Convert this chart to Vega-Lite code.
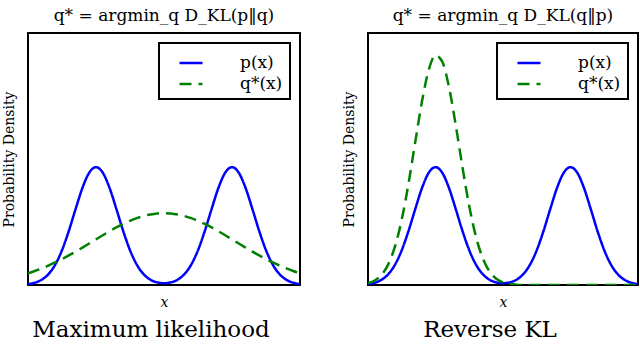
{
  "$schema": "https://vega.github.io/schema/vega-lite/v6.json",
  "background": "white",
  "padding": {"left": 1, "top": 6, "right": 2, "bottom": 0},
  "spacing": 40,
  "config": {
    "view": {"stroke": "black", "strokeWidth": 2},
    "font": "DejaVu Serif",
    "title": {"font": "DejaVu Serif", "fontWeight": "normal", "fontSize": 17, "color": "black", "anchor": "middle"},
    "axis": {"domain": false, "ticks": false, "labels": false, "grid": false, "titleFont": "DejaVu Serif", "titleFontWeight": "normal", "titleFontSize": 14, "titleColor": "black"},
    "legend": {"orient": "top-right", "offset": 10, "strokeColor": "black", "strokeWidth": 2, "fillColor": "white", "padding": 7, "labelFont": "DejaVu Serif", "labelFontSize": 17, "labelColor": "black", "symbolType": "stroke", "symbolSize": 529, "symbolStrokeWidth": 2.5, "labelOffset": 36, "rowPadding": 0, "symbolOffset": 12}
  },
  "datasets": {
    "ml": [
      {"s":"p(x)","x":-5,"y":0.0019},{"s":"p(x)","x":-4.75,"y":0.0048},{"s":"p(x)","x":-4.5,"y":0.011},{"s":"p(x)","x":-4.25,"y":0.0228},{"s":"p(x)","x":-4,"y":0.043},{"s":"p(x)","x":-3.75,"y":0.0736},{"s":"p(x)","x":-3.5,"y":0.1142},{"s":"p(x)","x":-3.25,"y":0.1607},{"s":"p(x)","x":-3,"y":0.2051},{"s":"p(x)","x":-2.75,"y":0.2375},{"s":"p(x)","x":-2.5,"y":0.2493},{"s":"p(x)","x":-2.25,"y":0.2375},{"s":"p(x)","x":-2,"y":0.2051},{"s":"p(x)","x":-1.75,"y":0.1607},{"s":"p(x)","x":-1.5,"y":0.1142},{"s":"p(x)","x":-1.25,"y":0.0736},{"s":"p(x)","x":-1,"y":0.043},{"s":"p(x)","x":-0.75,"y":0.0229},{"s":"p(x)","x":-0.5,"y":0.0112},{"s":"p(x)","x":-0.25,"y":0.0055},{"s":"p(x)","x":0,"y":0.0038},{"s":"p(x)","x":0.25,"y":0.0055},{"s":"p(x)","x":0.5,"y":0.0112},{"s":"p(x)","x":0.75,"y":0.0229},{"s":"p(x)","x":1,"y":0.043},{"s":"p(x)","x":1.25,"y":0.0736},{"s":"p(x)","x":1.5,"y":0.1142},{"s":"p(x)","x":1.75,"y":0.1607},{"s":"p(x)","x":2,"y":0.2051},{"s":"p(x)","x":2.25,"y":0.2375},{"s":"p(x)","x":2.5,"y":0.2493},{"s":"p(x)","x":2.75,"y":0.2375},{"s":"p(x)","x":3,"y":0.2051},{"s":"p(x)","x":3.25,"y":0.1607},{"s":"p(x)","x":3.5,"y":0.1142},{"s":"p(x)","x":3.75,"y":0.0736},{"s":"p(x)","x":4,"y":0.043},{"s":"p(x)","x":4.25,"y":0.0228},{"s":"p(x)","x":4.5,"y":0.011},{"s":"p(x)","x":4.75,"y":0.0048},{"s":"p(x)","x":5,"y":0.0019},
      {"s":"q*(x)","x":-5,"y":0.0248},{"s":"q*(x)","x":-4.75,"y":0.0296},{"s":"q*(x)","x":-4.5,"y":0.035},{"s":"q*(x)","x":-4.25,"y":0.041},{"s":"q*(x)","x":-4,"y":0.0476},{"s":"q*(x)","x":-3.75,"y":0.0548},{"s":"q*(x)","x":-3.5,"y":0.0625},{"s":"q*(x)","x":-3.25,"y":0.0706},{"s":"q*(x)","x":-3,"y":0.0791},{"s":"q*(x)","x":-2.75,"y":0.0878},{"s":"q*(x)","x":-2.5,"y":0.0966},{"s":"q*(x)","x":-2.25,"y":0.1053},{"s":"q*(x)","x":-2,"y":0.1137},{"s":"q*(x)","x":-1.75,"y":0.1217},{"s":"q*(x)","x":-1.5,"y":0.1291},{"s":"q*(x)","x":-1.25,"y":0.1357},{"s":"q*(x)","x":-1,"y":0.1413},{"s":"q*(x)","x":-0.75,"y":0.1459},{"s":"q*(x)","x":-0.5,"y":0.1492},{"s":"q*(x)","x":-0.25,"y":0.1513},{"s":"q*(x)","x":0,"y":0.152},{"s":"q*(x)","x":0.25,"y":0.1513},{"s":"q*(x)","x":0.5,"y":0.1492},{"s":"q*(x)","x":0.75,"y":0.1459},{"s":"q*(x)","x":1,"y":0.1413},{"s":"q*(x)","x":1.25,"y":0.1357},{"s":"q*(x)","x":1.5,"y":0.1291},{"s":"q*(x)","x":1.75,"y":0.1217},{"s":"q*(x)","x":2,"y":0.1137},{"s":"q*(x)","x":2.25,"y":0.1053},{"s":"q*(x)","x":2.5,"y":0.0966},{"s":"q*(x)","x":2.75,"y":0.0878},{"s":"q*(x)","x":3,"y":0.0791},{"s":"q*(x)","x":3.25,"y":0.0706},{"s":"q*(x)","x":3.5,"y":0.0625},{"s":"q*(x)","x":3.75,"y":0.0548},{"s":"q*(x)","x":4,"y":0.0476},{"s":"q*(x)","x":4.25,"y":0.041},{"s":"q*(x)","x":4.5,"y":0.035},{"s":"q*(x)","x":4.75,"y":0.0296},{"s":"q*(x)","x":5,"y":0.0248}
    ],
    "rkl": [
      {"s":"p(x)","x":-5,"y":0.0019},{"s":"p(x)","x":-4.75,"y":0.0048},{"s":"p(x)","x":-4.5,"y":0.011},{"s":"p(x)","x":-4.25,"y":0.0228},{"s":"p(x)","x":-4,"y":0.043},{"s":"p(x)","x":-3.75,"y":0.0736},{"s":"p(x)","x":-3.5,"y":0.1142},{"s":"p(x)","x":-3.25,"y":0.1607},{"s":"p(x)","x":-3,"y":0.2051},{"s":"p(x)","x":-2.75,"y":0.2375},{"s":"p(x)","x":-2.5,"y":0.2493},{"s":"p(x)","x":-2.25,"y":0.2375},{"s":"p(x)","x":-2,"y":0.2051},{"s":"p(x)","x":-1.75,"y":0.1607},{"s":"p(x)","x":-1.5,"y":0.1142},{"s":"p(x)","x":-1.25,"y":0.0736},{"s":"p(x)","x":-1,"y":0.043},{"s":"p(x)","x":-0.75,"y":0.0229},{"s":"p(x)","x":-0.5,"y":0.0112},{"s":"p(x)","x":-0.25,"y":0.0055},{"s":"p(x)","x":0,"y":0.0038},{"s":"p(x)","x":0.25,"y":0.0055},{"s":"p(x)","x":0.5,"y":0.0112},{"s":"p(x)","x":0.75,"y":0.0229},{"s":"p(x)","x":1,"y":0.043},{"s":"p(x)","x":1.25,"y":0.0736},{"s":"p(x)","x":1.5,"y":0.1142},{"s":"p(x)","x":1.75,"y":0.1607},{"s":"p(x)","x":2,"y":0.2051},{"s":"p(x)","x":2.25,"y":0.2375},{"s":"p(x)","x":2.5,"y":0.2493},{"s":"p(x)","x":2.75,"y":0.2375},{"s":"p(x)","x":3,"y":0.2051},{"s":"p(x)","x":3.25,"y":0.1607},{"s":"p(x)","x":3.5,"y":0.1142},{"s":"p(x)","x":3.75,"y":0.0736},{"s":"p(x)","x":4,"y":0.043},{"s":"p(x)","x":4.25,"y":0.0228},{"s":"p(x)","x":4.5,"y":0.011},{"s":"p(x)","x":4.75,"y":0.0048},{"s":"p(x)","x":5,"y":0.0019},
      {"s":"q*(x)","x":-5,"y":0.0039},{"s":"q*(x)","x":-4.75,"y":0.0095},{"s":"q*(x)","x":-4.5,"y":0.0214},{"s":"q*(x)","x":-4.25,"y":0.0437},{"s":"q*(x)","x":-4,"y":0.0815},{"s":"q*(x)","x":-3.75,"y":0.1385},{"s":"q*(x)","x":-3.5,"y":0.2143},{"s":"q*(x)","x":-3.25,"y":0.3023},{"s":"q*(x)","x":-3,"y":0.3885},{"s":"q*(x)","x":-2.75,"y":0.455},{"s":"q*(x)","x":-2.5,"y":0.4856},{"s":"q*(x)","x":-2.25,"y":0.4723},{"s":"q*(x)","x":-2,"y":0.4185},{"s":"q*(x)","x":-1.75,"y":0.338},{"s":"q*(x)","x":-1.5,"y":0.2487},{"s":"q*(x)","x":-1.25,"y":0.1668},{"s":"q*(x)","x":-1,"y":0.1019},{"s":"q*(x)","x":-0.75,"y":0.0567},{"s":"q*(x)","x":-0.5,"y":0.0288},{"s":"q*(x)","x":-0.25,"y":0.0133},{"s":"q*(x)","x":0,"y":0.0056},{"s":"q*(x)","x":0.25,"y":0.0022},{"s":"q*(x)","x":0.5,"y":0.0008},{"s":"q*(x)","x":0.75,"y":0.0002},{"s":"q*(x)","x":1,"y":0.0001},{"s":"q*(x)","x":1.25,"y":0},{"s":"q*(x)","x":1.5,"y":0},{"s":"q*(x)","x":1.75,"y":0},{"s":"q*(x)","x":2,"y":0},{"s":"q*(x)","x":2.25,"y":0},{"s":"q*(x)","x":2.5,"y":0},{"s":"q*(x)","x":2.75,"y":0},{"s":"q*(x)","x":3,"y":0},{"s":"q*(x)","x":3.25,"y":0},{"s":"q*(x)","x":3.5,"y":0},{"s":"q*(x)","x":3.75,"y":0},{"s":"q*(x)","x":4,"y":0},{"s":"q*(x)","x":4.25,"y":0},{"s":"q*(x)","x":4.5,"y":0},{"s":"q*(x)","x":4.75,"y":0},{"s":"q*(x)","x":5,"y":0}
    ]
  },
  "hconcat": [
    {
      "title": {"text": "Maximum likelihood", "orient": "bottom", "anchor": "middle", "font": "DejaVu Serif", "fontSize": 23, "offset": 9},
      "resolve": {"legend": {"color": "independent", "strokeDash": "independent"}},
      "vconcat": [
        {
          "width": 272,
          "height": 252,
          "title": {"text": "q* = argmin_q D_KL(p‖q)", "font": "DejaVu Serif", "offset": 8},
          "data": {"name": "ml"},
          "mark": {"type": "line", "strokeWidth": 2.5, "interpolate": "monotone", "clip": true},
          "encoding": {
            "x": {"field": "x", "type": "quantitative", "scale": {"domain": [-5, 5], "nice": false, "zero": false}, "axis": {"title": "x", "titleFontStyle": "italic", "titlePadding": 10}},
            "y": {"field": "y", "type": "quantitative", "scale": {"domain": [0, 0.533], "nice": false}, "axis": {"title": "Probability Density", "titlePadding": 12}},
            "color": {"field": "s", "type": "nominal", "scale": {"domain": ["p(x)", "q*(x)"], "range": ["#0000ff", "#008000"]}, "legend": {"title": null, "labelFont": "DejaVu Serif"}},
            "strokeDash": {"field": "s", "type": "nominal", "scale": {"domain": ["p(x)", "q*(x)"], "range": [[1, 0], [12, 7]]}, "legend": {"title": null, "labelFont": "DejaVu Serif"}}
          }
        }
      ]
    },
    {
      "title": {"text": "Reverse KL", "orient": "bottom", "anchor": "middle", "font": "DejaVu Serif", "fontSize": 23, "offset": 9},
      "resolve": {"legend": {"color": "independent", "strokeDash": "independent"}},
      "vconcat": [
        {
          "width": 270,
          "height": 252,
          "title": {"text": "q* = argmin_q D_KL(q‖p)", "font": "DejaVu Serif", "offset": 8},
          "data": {"name": "rkl"},
          "mark": {"type": "line", "strokeWidth": 2.5, "interpolate": "monotone", "clip": true},
          "encoding": {
            "x": {"field": "x", "type": "quantitative", "scale": {"domain": [-5, 5], "nice": false, "zero": false}, "axis": {"title": "x", "titleFontStyle": "italic", "titlePadding": 10}},
            "y": {"field": "y", "type": "quantitative", "scale": {"domain": [0, 0.533], "nice": false}, "axis": {"title": "Probability Density", "titlePadding": 12}},
            "color": {"field": "s", "type": "nominal", "scale": {"domain": ["p(x)", "q*(x)"], "range": ["#0000ff", "#008000"]}, "legend": {"title": null, "labelFont": "DejaVu Serif"}},
            "strokeDash": {"field": "s", "type": "nominal", "scale": {"domain": ["p(x)", "q*(x)"], "range": [[1, 0], [12, 7]]}, "legend": {"title": null, "labelFont": "DejaVu Serif"}}
          }
        }
      ]
    }
  ],
  "resolve": {"legend": {"color": "independent", "strokeDash": "independent"}, "scale": {"color": "independent", "strokeDash": "independent"}}
}
